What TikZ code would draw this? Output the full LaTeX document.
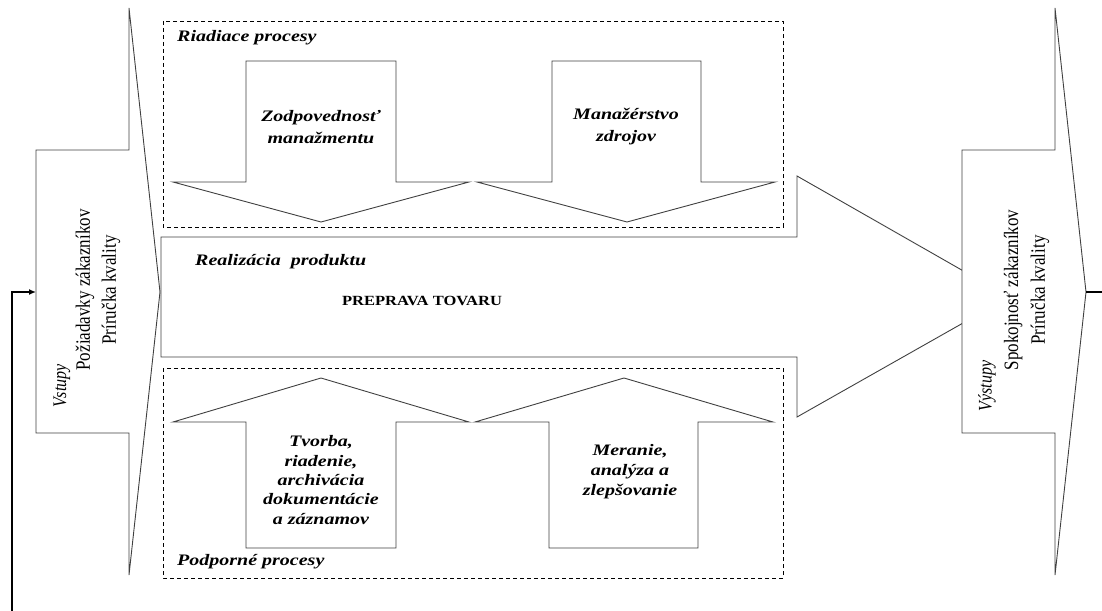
\documentclass[tikz,border=0pt]{standalone}
\usepackage{fontspec}
\setmainfont{Liberation Serif}
\usetikzlibrary{arrows.meta}
\newcommand{\hs}[1]{\scalebox{1.25}[1]{#1}}
\newcommand{\vs}[1]{\scalebox{1}[1.2]{#1}}
\begin{document}
\begin{tikzpicture}[x=1pt,y=-1pt,
  shp/.style={draw=black!75,line width=0.9pt,fill=white,line join=miter},
  dbox/.style={draw=black,line width=0.8pt,dash pattern=on 4pt off 3pt},
  lbl/.style={inner sep=0pt,font=\fontsize{16}{20}\selectfont\bfseries\itshape,align=center},
  vlbl/.style={inner sep=0pt,rotate=90,font=\fontsize{17}{20}\selectfont},
  fb/.style={draw=black,line width=1.4pt}]
\useasboundingbox (0,0) rectangle (1102,610);
% dashed group boxes
\draw[dbox] (163,21) rectangle (783,227);
\draw[dbox] (163,368) rectangle (783,578);
% middle big arrow (tip hidden behind output arrow)
\draw[shp] (161,237) -- (797,237) -- (797,176) -- (1009,297) -- (797,417) -- (797,357) -- (161,357) -- cycle;
% input arrow
\draw[shp] (36,150) -- (129,150) -- (129,8) -- (160,292) -- (129,575) -- (129,433) -- (36,433) -- cycle;
% output arrow
\draw[shp] (962,150) -- (1055,150) -- (1055,8) -- (1086,292) -- (1055,575) -- (1055,433) -- (962,433) -- cycle;
% down arrows
\draw[shp] (246,61) -- (396,61) -- (396,182) -- (469,182) -- (321,222) -- (173,182) -- (246,182) -- cycle;
\draw[shp] (552,61) -- (701,61) -- (701,182) -- (775,182) -- (627,222) -- (477,182) -- (552,182) -- cycle;
% up arrows
\draw[shp] (246,548) -- (396,548) -- (396,422) -- (469,422) -- (321,378) -- (173,422) -- (246,422) -- cycle;
\draw[shp] (549,548) -- (698,548) -- (698,422) -- (773,422) -- (624,378) -- (475,422) -- (549,422) -- cycle;
% labels
\node[lbl,anchor=west] (riad) at (177,38) {\hs{Riadiace procesy}};
\node[lbl,font=\fontsize{16}{22}\selectfont\bfseries\itshape] (zodp) at (321,127) {\hs{Zodpovednosť}\\\hs{manažmentu}};
\node[lbl,font=\fontsize{16}{22}\selectfont\bfseries\itshape] (manz) at (626,127) {\hs{Manažérstvo}\\\hs{zdrojov}};
\node[lbl,anchor=west] (realiz) at (195,262) {\hs{Realizácia\ \ produktu}};
\node[inner sep=0pt,font=\fontsize{14}{18}\selectfont\bfseries] (prepr) at (422,301) {\scalebox{1.18}[1]{PREPRAVA TOVARU}};
\node[lbl,font=\fontsize{16}{19.3}\selectfont\bfseries\itshape] (tvorba) at (321,480) {\hs{Tvorba,}\\\hs{riadenie,}\\\hs{archivácia}\\\hs{dokumentácie}\\\hs{a záznamov}};
\node[lbl,font=\fontsize{16}{20}\selectfont\bfseries\itshape] (meran) at (630,472) {\hs{Meranie,}\\\hs{analýza a}\\\hs{zlepšovanie}};
\node[lbl,anchor=west] (podp) at (177,562) {\hs{Podporné procesy}};
% vertical labels, input
\node[vlbl,font=\fontsize{16}{20}\selectfont\itshape] (vst) at (62,386) {\vs{Vstupy}};
\node[vlbl] (poz) at (85,290) {\vs{Požiadavky zákazníkov}};
\node[vlbl] (pri1) at (111,290) {\vs{Príručka kvality}};
% vertical labels, output
\node[vlbl,font=\fontsize{16}{20}\selectfont\itshape] (vyst) at (987,386) {\vs{Výstupy}};
\node[vlbl] (spok) at (1013,290) {\vs{Spokojnosť zákazníkov}};
\node[vlbl] (pri2) at (1040,290) {\vs{Príručka kvality}};
% feedback loop
\coordinate (inL) at (36,292);
\coordinate (fbB) at (12,612);
\coordinate (outR) at (1086,292);
\coordinate (fbR) at (1104,292);
\draw[fb,-{Latex[length=7pt,width=6pt]}] (fbB) |- (inL);
\draw[fb] (outR) -- (fbR);
\end{tikzpicture}
\end{document}
